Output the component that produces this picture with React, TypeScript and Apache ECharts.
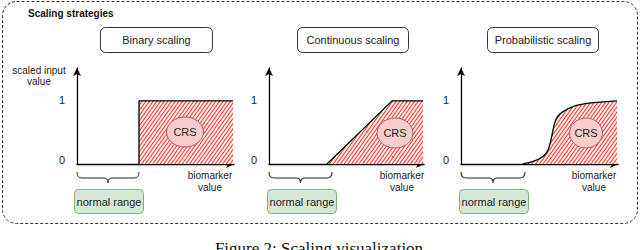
import React, { useEffect, useRef } from 'react';
import * as echarts from 'echarts';

// ---- data ----
const panelTitles = ['Binary scaling', 'Continuous scaling', 'Probabilistic scaling'];
const binaryX = [3.95, 3.95, 9.94];
const binaryY = [0, 1, 1];
const continuousX = [3.74, 7.94, 9.94];
const continuousY = [0, 1, 1];
const sigmoidX = [3.95, 4.59, 5.22, 5.54, 5.73, 5.86, 5.99, 6.18, 6.5, 7.13, 8.03, 8.85, 9.94];
const sigmoidY = [0, 0.04, 0.12, 0.22, 0.38, 0.54, 0.67, 0.76, 0.83, 0.91, 0.96, 0.98, 1.0];
const yTickValues = [0, 1];
const yAxisName = ['scaled input', 'value'];
const xAxisName = ['biomarker', 'value'];
const boxLabel = 'normal range';
const regionLabel = 'CRS';
const figureTitle = 'Scaling strategies';
const caption = 'Figure 2: Scaling visualization';

const FONT = '"Liberation Sans", Arial, Helvetica, sans-serif';

export default function App() {
  const ref = useRef<HTMLDivElement>(null);
  useEffect(() => {
    const el = ref.current!;
    const chart = echarts.init(el, null, { renderer: 'svg' });

    const lefts = [77, 269, 461];
    const widths = [157, 155, 157];
    const gridTop = 68;
    const gridH = 96;

    const grids = lefts.map((l, i) => ({ left: l, top: gridTop, width: widths[i], height: gridH }));
    const xAxes = lefts.map((_, i) => ({
      type: 'value', gridIndex: i, min: 0, max: 10,
      axisLine: { show: true, lineStyle: { color: '#000', width: 1.3 }, symbol: ['none', 'arrow'], symbolSize: [6, 8] },
      axisTick: { show: false }, axisLabel: { show: false }, splitLine: { show: false },
    }));
    const yAxes = lefts.map((_, i) => ({
      type: 'value', gridIndex: i, min: 0, max: 1.52,
      axisLine: { show: true, lineStyle: { color: '#000', width: 1.3 }, symbol: ['none', 'arrow'], symbolSize: [6, 8] },
      axisTick: { show: false }, splitLine: { show: false },
      axisLabel: {
        show: true, customValues: yTickValues, margin: 12,
        formatter: (v: number) => (v === 0 ? '{z|0}' : '{o|1}'),
        rich: {
          z: { fontSize: 11, fontFamily: FONT, color: '#222', padding: [0, 0, 8, 0] },
          o: { fontSize: 11, fontFamily: FONT, color: '#222', padding: [0, 0, 2, 0] },
        },
      },
    }));

    const mk = (xs: number[], ys: number[], i: number, smooth: number | boolean) => ({
      type: 'line', xAxisIndex: i, yAxisIndex: i,
      data: xs.map((x, k) => [x, ys[k]]),
      showSymbol: false, smooth,
      lineStyle: { color: '#000', width: 1.3 },
      itemStyle: {
        color: '#000',
        decal: {
          symbol: 'rect', symbolSize: 1, color: '#ff2a20', backgroundColor: null,
          dashArrayX: [1, 0], dashArrayY: [1, 2], rotation: -Math.PI / 3.3,
        },
      },
      areaStyle: { color: '#fff6f5', opacity: 1 },
      z: 3,
    });

    const graphic: any[] = [];
    graphic.push({
      type: 'rect', shape: { x: 2.5, y: 1.5, width: 635, height: 222, r: 14 },
      style: { fill: 'none', stroke: '#333', lineWidth: 1, lineDash: [3, 2] }, z: 1,
    });
    graphic.push({
      type: 'text', x: 28, y: 13,
      style: { text: figureTitle, font: `bold 10px ${FONT}`, fill: '#111', verticalAlign: 'middle' }, z: 10,
    });
    const titleBoxes = [[100, 112], [297, 111], [487, 111]];
    const nrBoxes = [74, 267, 459];
    const braceW = [62, 63, 64];
    const crs = [[185, 132, 18.5, 15], [395, 133, 18, 15], [586, 133, 16.5, 15]];
    echarts.graphic.registerShape('brace', echarts.graphic.extendPath(
      'M0,0 Q0,6 5,6 L27,6 Q31,6 31,11 Q31,6 35,6 L57,6 Q62,6 62,0', {}) as any);

    lefts.forEach((l, i) => {
      const [tx, tw] = titleBoxes[i];
      graphic.push({
        type: 'rect', shape: { x: tx + 0.5, y: 27.5, width: tw, height: 25, r: 5 },
        style: { fill: '#fff', stroke: '#333', lineWidth: 1 }, z: 5,
      });
      graphic.push({
        type: 'text', x: tx + tw / 2 + 0.5, y: 40,
        style: { text: panelTitles[i], font: `11px ${FONT}`, fill: '#222', align: 'center', verticalAlign: 'middle' }, z: 10,
      });
      const nx = nrBoxes[i];
      graphic.push({
        type: 'rect', shape: { x: nx + 0.5, y: 189.5, width: 69, height: 24, r: 4 },
        style: { fill: '#d5e8d4', stroke: '#82b366', lineWidth: 1 }, z: 5,
      });
      graphic.push({
        type: 'text', x: nx + 35, y: 201.5,
        style: { text: boxLabel, font: `11px ${FONT}`, fill: '#222', align: 'center', verticalAlign: 'middle' }, z: 10,
      });
      graphic.push({
        type: 'brace', x: l, y: 172, scaleX: braceW[i] / 62, scaleY: 1,
        style: { fill: 'none', stroke: '#222', lineWidth: 1 }, z: 5,
      });
      const [cx, cy, rx, ry] = crs[i];
      graphic.push({
        type: 'ellipse', shape: { cx, cy, rx, ry },
        style: { fill: '#f8cecc', stroke: '#b85450', lineWidth: 1 }, z: 10,
      });
      graphic.push({
        type: 'text', x: cx, y: cy,
        style: { text: regionLabel, font: `11px ${FONT}`, fill: '#222', align: 'center', verticalAlign: 'middle' }, z: 11,
      });
      graphic.push({
        type: 'text', x: l + 133, y: 181,
        style: { text: xAxisName.join('\n'), font: `10px ${FONT}`, fill: '#222', align: 'center', verticalAlign: 'middle', lineHeight: 12 }, z: 10,
      });
    });
    graphic.push({
      type: 'text', x: 39, y: 75.5,
      style: { text: yAxisName.join('\n'), font: `10px ${FONT}`, fill: '#222', align: 'center', verticalAlign: 'middle', lineHeight: 11 }, z: 10,
    });
    graphic.push({
      type: 'text', x: 319, y: 240,
      style: { text: caption, font: `17px "Liberation Serif", "Times New Roman", serif`, fill: '#111', align: 'center', verticalAlign: 'top' }, z: 10,
    });

    chart.setOption({
      animation: false,
      backgroundColor: '#fff',
      grid: grids,
      xAxis: xAxes,
      yAxis: yAxes,
      series: [
        mk(binaryX, binaryY, 0, false),
        mk(continuousX, continuousY, 1, false),
        mk(sigmoidX, sigmoidY, 2, 0.3),
      ],
      graphic,
    } as any);
    return () => chart.dispose();
  }, []);
  return <div ref={ref} style={{ position: 'absolute', left: 0, top: 0, width: 640, height: 250 }} />;
}
